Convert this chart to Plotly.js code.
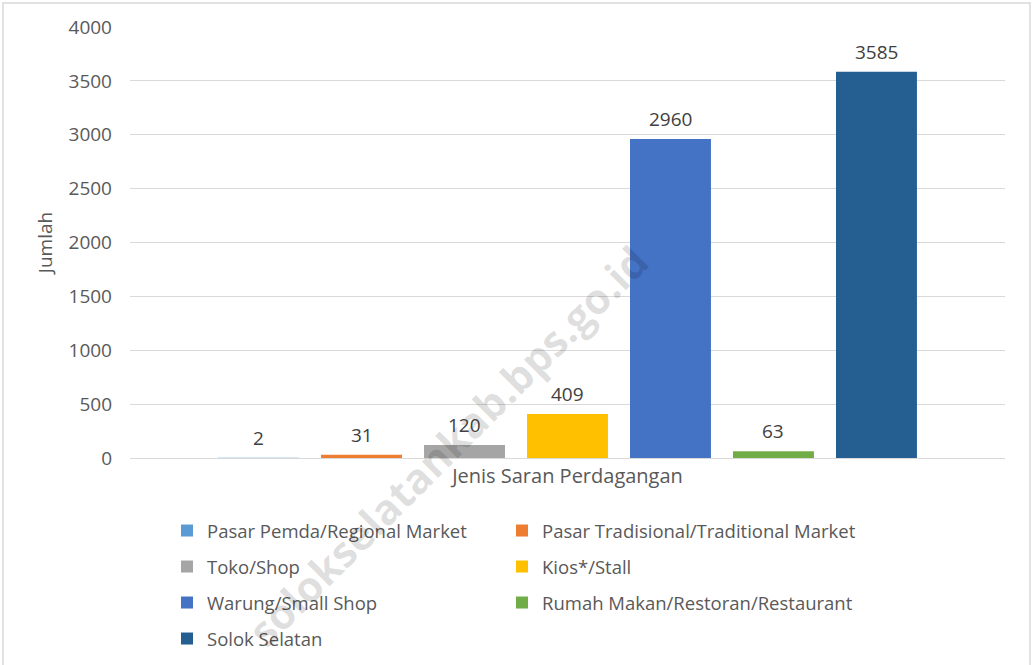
<!DOCTYPE html>
<html>
<head>
<meta charset="utf-8">
<script src="https://cdn.plot.ly/plotly-3.0.1.min.js"></script>
<style>
html,body{margin:0;padding:0;background:#fff;}
#chart{width:1034px;height:665px;}
</style>
</head>
<body>
<div id="chart"></div>
<script>
const categories = [
  "Pasar Pemda/Regional Market",
  "Pasar Tradisional/Traditional Market",
  "Toko/Shop",
  "Kios*/Stall",
  "Warung/Small Shop",
  "Rumah Makan/Restoran/Restaurant",
  "Solok Selatan"
];
const values = [2, 31, 120, 409, 2960, 63, 3585];
const yTicks = [0, 500, 1000, 1500, 2000, 2500, 3000, 3500, 4000];
const xTitle = "Jenis Saran Perdagangan";
const yTitle = "Jumlah";
const watermark = "solokselatankab.bps.go.id";

const colors = ["#5B9BD5", "#ED7D31", "#A5A5A5", "#FFC000", "#4472C4", "#70AD47", "#255E91"];

const W = 1034, H = 665;
const M = {l: 130, r: 29, t: 27, b: 207, autoexpand: false};
const pw = W - M.l - M.r, ph = H - M.t - M.b;
const px = v => (v - M.l) / pw;
const py = v => (H - M.b - v) / ph;

const FONT = "'Open Sans', sans-serif";
const TXT = "#595959";

const legendIds = categories.map((c, i) => i === 0 ? "legend" : "legend" + (i + 1));

const traces = categories.map((c, i) => ({
  type: "bar",
  name: c,
  x: [c],
  y: [values[i]],
  marker: {color: colors[i]},
  legend: legendIds[i],
  hoverinfo: "name+y"
}));

const legendCols = [207 - 40, 542 - 40];
const legendRows = [531, 567, 603, 639];

const layout = {
  width: W, height: H,
  margin: M,
  paper_bgcolor: "#fff",
  plot_bgcolor: "#fff",
  font: {family: FONT, size: 18, color: TXT},
  barmode: "overlay",
  bargap: 0.214,
  showlegend: true,
  xaxis: {
    type: "category",
    categoryorder: "array",
    categoryarray: categories,
    range: [-1.248, 7.248],
    showticklabels: false,
    showgrid: false,
    zeroline: false,
    showline: false,
    ticks: "",
    fixedrange: true,
    automargin: false,
    title: {text: xTitle, standoff: 10, font: {family: FONT, size: 20, color: TXT}}
  },
  yaxis: {
    range: [0, 4000],
    tickvals: yTicks,
    ticktext: yTicks.map(String),
    showgrid: true,
    gridcolor: "#D9D9D9",
    gridwidth: 1,
    zeroline: true,
    zerolinecolor: "#D9D9D9",
    zerolinewidth: 1,
    showline: false,
    ticks: "",
    ticklabelstandoff: 17,
    tickfont: {family: FONT, size: 19, color: TXT},
    fixedrange: true,
    automargin: false,
    title: {text: yTitle, standoff: 10, font: {family: FONT, size: 19, color: TXT}}
  },
  annotations: [{
    xref: "paper", yref: "paper",
    x: px(447), y: py(445),
    xanchor: "center", yanchor: "middle",
    text: watermark,
    showarrow: false,
    textangle: -45,
    font: {family: FONT, size: 42, weight: "bold", color: "rgba(0,0,0,0.13)"}
  }].concat(categories.map((c, i) => ({
    x: c, y: values[i], xref: "x", yref: "y",
    text: String(values[i]),
    showarrow: false,
    yanchor: "middle",
    yshift: 20,
    font: {family: FONT, size: 19, color: "#404040"}
  }))),
  shapes: [{
    type: "rect", xref: "paper", yref: "paper", layer: "below",
    x0: px(3), x1: px(1030), y0: py(672), y1: py(3),
    line: {color: "#D9D9D9", width: 1.5}, fillcolor: "rgba(0,0,0,0)"
  }]
};

categories.forEach((c, i) => {
  layout[legendIds[i]] = {
    orientation: "h",
    x: px(legendCols[i % 2]),
    xanchor: "left",
    y: py(legendRows[Math.floor(i / 2)]),
    yanchor: "middle",
    bgcolor: "rgba(0,0,0,0)",
    borderwidth: 0,
    font: {family: FONT, size: 18.5, color: TXT}
  };
});

Plotly.newPlot("chart", traces, layout, {displayModeBar: false, staticPlot: true});
</script>
</body>
</html>
